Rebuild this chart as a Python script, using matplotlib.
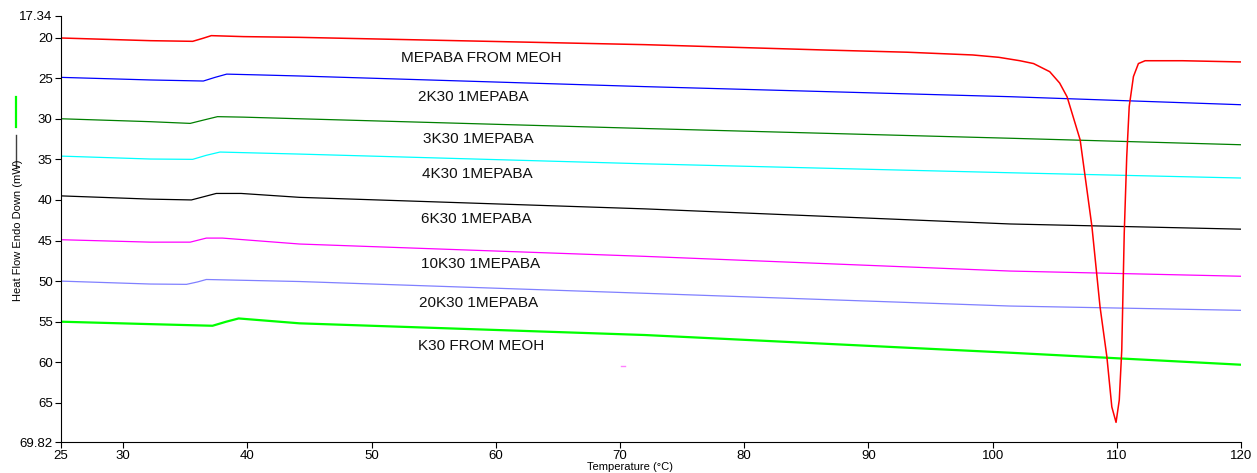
import numpy as np
import matplotlib.pyplot as plt
from matplotlib.lines import Line2D

plt.rcParams['font.family'] = ['Liberation Sans', 'DejaVu Sans']

# curves (temperature in C, heat flow in mW)
t_red = [25, 32.2, 35.6, 36.4, 37.1, 39.7, 44.2, 72, 86.5, 93.1, 98.4, 100.5, 102.2, 103.3, 104.6,
         105.4, 106.0, 107.05, 108.0, 108.65, 109.2, 109.6, 109.94, 110.2, 110.4, 110.6,
         110.8, 111.0, 111.34, 111.74, 112.28, 115.3, 120]
y_red = [20.05, 20.38, 20.46, 20.1, 19.76, 19.88, 19.97, 20.87, 21.53, 21.8, 22.14, 22.43, 22.85, 23.2, 24.2,
         25.6, 27.3, 32.6, 43.3, 53.15, 59.3, 65.5, 67.4, 64.65, 58.5, 44.1,
         34.7, 28.5, 24.8, 23.2, 22.85, 22.85, 23.0]

t_2k = [25, 32.2, 36.46, 37.4, 38.34, 41.0, 44.2, 72, 101.4, 120]
y_2k = [24.9, 25.22, 25.35, 24.9, 24.5, 24.6, 24.73, 26.04, 27.28, 28.27]

t_3k = [25, 32.2, 35.4, 36.5, 37.6, 39.7, 44.2, 72, 101.4, 120]
y_3k = [30.0, 30.36, 30.57, 30.15, 29.74, 29.8, 30.0, 31.2, 32.4, 33.2]

t_4k = [25, 32.2, 35.6, 36.7, 37.8, 44.2, 72, 101.4, 120]
y_4k = [34.6, 34.96, 35.0, 34.5, 34.1, 34.35, 35.55, 36.65, 37.3]

t_6k = [25, 32.2, 35.5, 36.5, 37.5, 39.5, 44.2, 72, 101.4, 120]
y_6k = [39.5, 39.9, 40.0, 39.6, 39.2, 39.2, 39.68, 41.1, 42.96, 43.6]

t_10k = [25, 32.2, 35.4, 36.7, 38.0, 44.2, 72, 101.4, 120]
y_10k = [44.9, 45.2, 45.2, 44.7, 44.7, 45.43, 46.95, 48.76, 49.4]

t_20k = [25, 32.2, 35.1, 36.0, 36.7, 44.2, 72, 101.4, 120]
y_20k = [50.0, 50.36, 50.4, 50.1, 49.8, 50.05, 51.5, 53.07, 53.6]

t_k30 = [25, 32.2, 37.2, 38.3, 39.3, 44.2, 72, 101.4, 120]
y_k30 = [55.0, 55.3, 55.5, 55.0, 54.6, 55.2, 56.64, 58.82, 60.3]

names = ['MEPABA FROM MEOH', '2K30 1MEPABA', '3K30 1MEPABA', '4K30 1MEPABA',
         '6K30 1MEPABA', '10K30 1MEPABA', '20K30 1MEPABA', 'K30 FROM MEOH']
label_x = [58.8, 58.2, 58.6, 58.5, 58.4, 58.8, 58.6, 58.8]
label_y = [22.5, 27.3, 32.5, 36.8, 42.3, 47.9, 52.75, 58.0]

xticks = [25, 30, 40, 50, 60, 70, 80, 90, 100, 110, 120]
yticks = [17.34, 20, 25, 30, 35, 40, 45, 50, 55, 60, 65, 69.82]

fig = plt.figure(figsize=(12.57, 4.73), dpi=100)
ax = fig.add_axes([61 / 1257, 1 - 442 / 473, 1180 / 1257, 426 / 473])

ax.plot(t_2k, y_2k, color='#0000ff', lw=0.9)
ax.plot(t_3k, y_3k, color='#008000', lw=0.9)
ax.plot(t_4k, y_4k, color='#00ffff', lw=0.9)
ax.plot(t_6k, y_6k, color='#000000', lw=0.9)
ax.plot(t_10k, y_10k, color='#ff00ff', lw=0.9)
ax.plot(t_20k, y_20k, color='#8080ff', lw=0.9)
ax.plot(t_k30, y_k30, color='#00ff00', lw=1.6)
ax.plot(t_red, y_red, color='#ff0000', lw=1.1)
# small stray mark
ax.plot([70.1, 70.4], [60.46, 60.46], color='#ff80ff', lw=1.0)

for n, lx, ly in zip(names, label_x, label_y):
    ax.text(lx, ly, n, fontsize=11, ha='center', va='center', color='#111111')

ax.set_xlim(25, 120)
ax.set_ylim(69.82, 17.34)
ax.set_xticks(xticks)
ax.set_xticklabels([str(v) for v in xticks])
ax.set_yticks(yticks)
ax.set_yticklabels(['17.34'] + [str(v) for v in yticks[1:-1]] + ['69.82'])
ax.tick_params(labelsize=9.5, length=4, width=0.8, direction='out', pad=2)
for s in ['top', 'right']:
    ax.spines[s].set_visible(False)
for s in ['left', 'bottom']:
    ax.spines[s].set_linewidth(0.8)

fig.text(630 / 1257, 1 - 467 / 473, 'Temperature (°C)', fontsize=8, ha='center', va='center')
fig.text(18 / 1257, 1 - 230 / 473, 'Heat Flow Endo Down (mW)', fontsize=8, rotation=90,
         ha='center', va='center')

# legend bars beside the y label
fig.add_artist(Line2D([16 / 1257, 16 / 1257], [1 - 97 / 473, 1 - 127 / 473], color='#00ff00', lw=1.6))
fig.add_artist(Line2D([16 / 1257, 16 / 1257], [1 - 135 / 473, 1 - 168 / 473], color='#404040', lw=1.0))

fig.savefig('out.png', dpi=100)
